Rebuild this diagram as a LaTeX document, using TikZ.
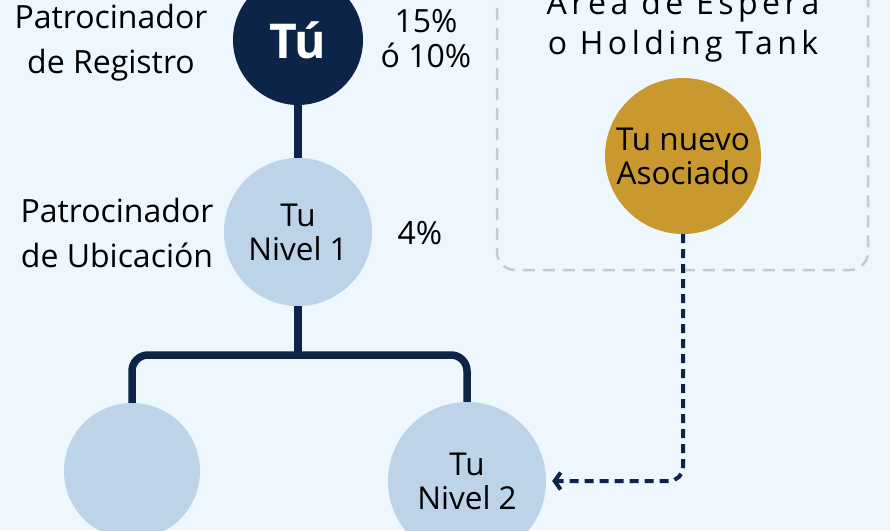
\documentclass[tikz,border=0pt]{standalone}
\usepackage{fontspec}
\setmainfont{Open Sans}
\usetikzlibrary{arrows.meta,positioning}
\definecolor{mNavy}{HTML}{0B2447}
\definecolor{mSky}{HTML}{BCD3E8}
\definecolor{mGold}{HTML}{C9992F}
\definecolor{mPaper}{HTML}{EEF6FE}
\definecolor{mDash}{HTML}{C8CACD}

\begin{document}
\begin{tikzpicture}[x=1pt, y=-1pt, font=\fontsize{32}{36}\selectfont,
    bubble/.style={circle, inner sep=0pt, minimum size=#1, align=center,
        font=\fontsize{31.5}{34}\selectfont},
    label/.style={align=center, font=\fontsize{32}{45}\selectfont},
    link/.style={mNavy, line width=7.5pt},
    flow/.style={mNavy, line width=4pt, dash pattern=on 9pt off 6pt,
        rounded corners=14pt, -{Straight Barb[length=6pt,width=17pt]}, shorten >=6pt}]
    \useasboundingbox (0,0) rectangle (890,530);
    \clip (0,0) rectangle (890,530);
    \fill[mPaper] (0,0) rectangle (890,530);

    % holding tank
    \draw[mDash, line width=2.5pt, dash pattern=on 12pt off 8pt, rounded corners=18pt]
        (497,-30) rectangle (868,270);
    \node[align=center, font=\fontsize{32}{40}\selectfont\addfontfeature{LetterSpace=14}]
        (tank) at (683,23) {Área de Espera\\o Holding Tank};
    \node[bubble=156pt, fill=mGold] (nuevo) at (683,156) {Tu nuevo\\Asociado};

    % genealogy tree
    \node[bubble=130pt, fill=mNavy, text=white, font=\fontsize{48}{50}\selectfont\bfseries]
        (tu) at (298,40) {Tú};
    \node[bubble=148pt, fill=mSky] (nivelA) at (298,232) {Tu\\Nivel 1};
    \node[bubble=136pt, fill=mSky] (hueco) at (132,471) {};
    \node[bubble=158pt, fill=mSky] (nivelB) at (467,481) {Tu\\Nivel 2};
    \coordinate (split) at (298,355);

    \draw[link] (tu) -- (nivelA);
    \draw[link] (nivelA) -- (split);
    \draw[link, rounded corners=16pt] (hueco.north) |- (split) -| (nivelB.north);
    \draw[flow] (nuevo.south) |- (nivelB.east);

    \node[label] (registro) at (111,43) {Patrocinador\\de Registro};
    \node[label, font=\fontsize{32}{35}\selectfont] (pctReg) at (426,39) {15\%\\ó 10\%};
    \node[label] (ubicacion) at (117,233) {Patrocinador\\de Ubicación};
    \node[label] (pctUbi) at (420,233) {4\%};
\end{tikzpicture}
\end{document}
